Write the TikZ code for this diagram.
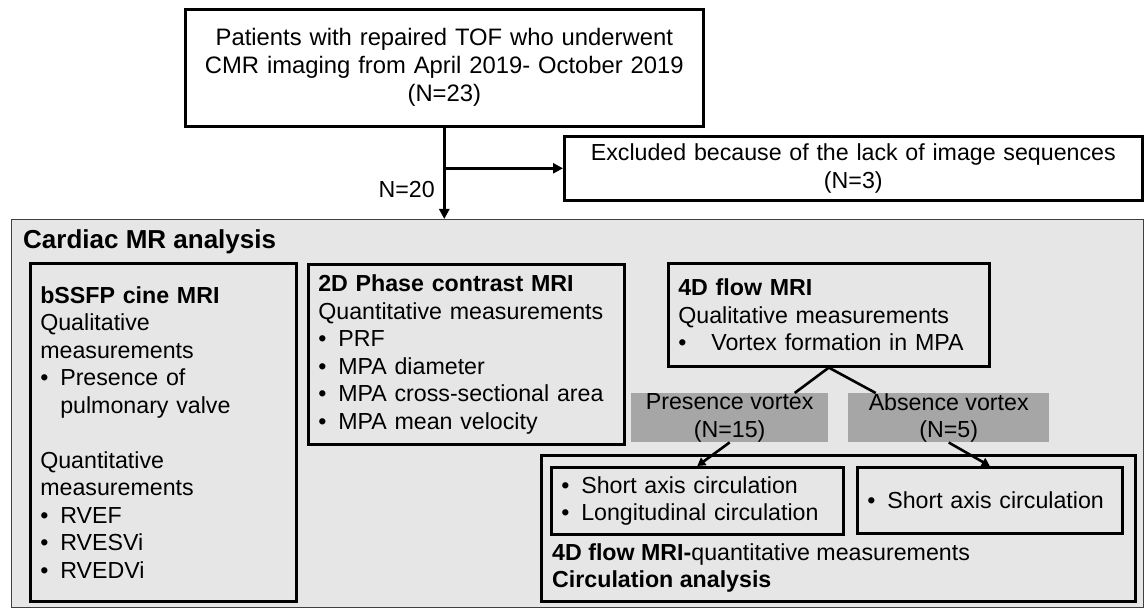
\documentclass[tikz,border=0pt]{standalone}
\usepackage{fontspec}
\setmainfont{Liberation Sans}
\usetikzlibrary{positioning,arrows.meta}

\definecolor{panelgray}{HTML}{E6E6E6}
\definecolor{groupgray}{HTML}{A6A6A6}
\newcommand{\fs}{\fontsize{23.2}{27.5}\selectfont}
\newcommand{\bul}{\makebox[20pt][l]{\textbullet}}

\begin{document}
\begin{tikzpicture}[x=1pt, y=-1pt,
                box/.style={draw, line width=2.6pt, anchor=north west, align=left,
                            inner xsep=10pt, inner ysep=0pt, font=\fs},
                group/.style={fill=groupgray, anchor=north west, align=center,
                              inner sep=0pt, font=\fs},
                link/.style={line width=2.6pt},
                arr/.style={line width=2.6pt, -{Triangle[length=10pt,width=10pt]}}
                ]
                \useasboundingbox (0,0) rectangle (1146,612);
                % Cohort and exclusion
                \node[box, align=center, text width=498pt, minimum height=117pt,
                      font=\fontsize{23.8}{28}\selectfont] (cohort) at (184,8)
                  {Patients with repaired TOF who underwent\\CMR imaging from April 2019- October 2019\\(N=23)};
                \node[box, align=center, text width=558pt, minimum height=64pt] (excl) at (563,135)
                  {Excluded because of the lack of image sequences\\(N=3)};
                % Analysis panel
                \node[draw=black!75, line width=0.8pt, fill=panelgray, anchor=north west,
                      minimum width=1132pt, minimum height=388pt, inner sep=0pt] (mr) at (11,219) {};
                \node[anchor=base west, inner sep=0pt, font=\fontsize{26}{30}\selectfont\bfseries]
                  (mrtitle) at (23,249) {Cardiac MR analysis};
                % Flow from cohort
                \draw[arr] (cohort.south) -- (cohort.south |- mr.north);
                \draw[arr] (cohort.south |- excl.west) -- (excl.west);
                \node[anchor=base east, inner sep=0pt, font=\fs] (n20) at (435,198) {N=20};
                % Cine
                \node[box, text width=246pt, minimum height=338pt] (cine) at (29,262)
                  {\textbf{bSSFP cine MRI}\\
                   Qualitative\\
                   measurements\\
                   \bul Presence of\\
                   \hspace*{20pt}pulmonary valve\\[27.5pt]
                   Quantitative\\
                   measurements\\
                   \bul RVEF\\
                   \bul RVESVi\\
                   \bul RVEDVi};
                % Phase contrast
                \node[box, text width=296pt, minimum height=180pt] (pc) at (307,263)
                  {\textbf{2D Phase contrast MRI}\\
                   Quantitative measurements\\
                   \bul PRF\\
                   \bul MPA diameter\\
                   \bul MPA cross-sectional area\\
                   \bul MPA mean velocity};
                % 4D flow
                \node[box, text width=301pt, minimum height=103pt] (flow) at (667,262)
                  {\textbf{4D flow MRI}\\
                   Qualitative measurements\\
                   \makebox[33pt][l]{\textbullet}Vortex formation in MPA};
                \node[group, minimum width=197pt, minimum height=49pt] (pres) at (631,393)
                  {Presence vortex\\(N=15)};
                \node[group, minimum width=201pt, minimum height=49pt] (abs) at (848,393)
                  {Absence vortex\\(N=5)};
                \draw[link] (flow.south) -- ([xshift=65pt]pres.north);
                \draw[link] (flow.south) -- ([xshift=-73pt]abs.north);
                % Circulation analysis
                \node[box, minimum width=594pt, minimum height=146pt, inner sep=0pt] (quant) at (540,454) {};
                \node[box, text width=272pt, minimum height=67pt] (circa) at (550,466)
                  {\bul Short axis circulation\\
                   \bul Longitudinal circulation};
                \node[box, text width=245pt, minimum height=66pt] (circb) at (856,466)
                  {\bul Short axis circulation};
                \node[anchor=south west, align=left, inner sep=0pt, font=\fs]
                  (quanttext) at ([xshift=12pt, yshift=10pt]quant.south west)
                  {\textbf{4D flow MRI-}quantitative measurements\\\textbf{Circulation analysis}};
                \draw[arr, -{Triangle[length=8pt,width=9pt]}] (pres.south) -- (circa.north);
                \draw[arr, -{Triangle[length=8pt,width=9pt]}] (abs.south) -- (circb.north);
              \end{tikzpicture}
\end{document}
